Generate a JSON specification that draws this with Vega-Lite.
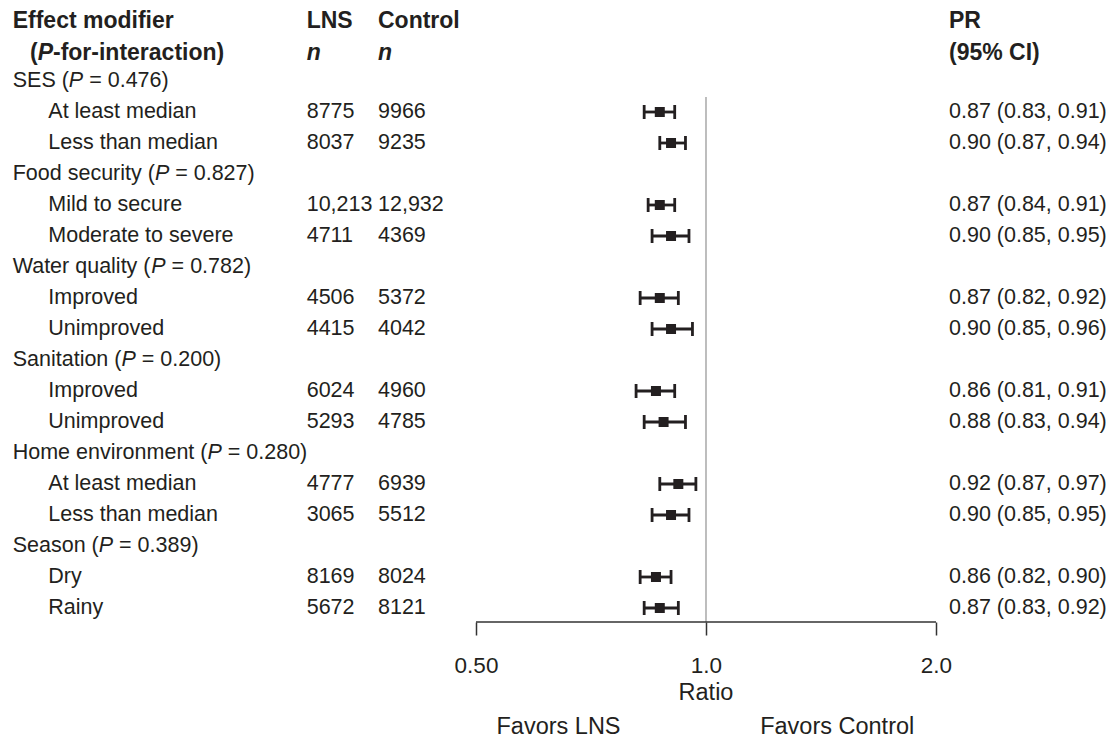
{
  "$schema": "https://vega.github.io/schema/vega-lite/v6.json",
  "width": 1111,
  "height": 739,
  "autosize": {"type": "none"},
  "padding": 0,
  "background": "white",
  "config": {
    "view": {"stroke": null},
    "text": {"font": "Liberation Sans", "fontSize": 21.5, "color": "#231f20", "align": "left", "baseline": "middle"}
  },
  "datasets": {
    "rows": [
      {"row": 0, "type": "group", "label": "SES (", "post": "= 0.476)"},
      {"row": 1, "type": "item", "label": "At least median", "lns": "8775", "ctrl": "9966", "pr": 0.87, "lo": 0.83, "hi": 0.91, "ci": "0.87 (0.83, 0.91)"},
      {"row": 2, "type": "item", "label": "Less than median", "lns": "8037", "ctrl": "9235", "pr": 0.90, "lo": 0.87, "hi": 0.94, "ci": "0.90 (0.87, 0.94)"},
      {"row": 3, "type": "group", "label": "Food security (", "post": "= 0.827)"},
      {"row": 4, "type": "item", "label": "Mild to secure", "lns": "10,213", "ctrl": "12,932", "pr": 0.87, "lo": 0.84, "hi": 0.91, "ci": "0.87 (0.84, 0.91)"},
      {"row": 5, "type": "item", "label": "Moderate to severe", "lns": "4711", "ctrl": "4369", "pr": 0.90, "lo": 0.85, "hi": 0.95, "ci": "0.90 (0.85, 0.95)"},
      {"row": 6, "type": "group", "label": "Water quality (", "post": "= 0.782)"},
      {"row": 7, "type": "item", "label": "Improved", "lns": "4506", "ctrl": "5372", "pr": 0.87, "lo": 0.82, "hi": 0.92, "ci": "0.87 (0.82, 0.92)"},
      {"row": 8, "type": "item", "label": "Unimproved", "lns": "4415", "ctrl": "4042", "pr": 0.90, "lo": 0.85, "hi": 0.96, "ci": "0.90 (0.85, 0.96)"},
      {"row": 9, "type": "group", "label": "Sanitation (", "post": "= 0.200)"},
      {"row": 10, "type": "item", "label": "Improved", "lns": "6024", "ctrl": "4960", "pr": 0.86, "lo": 0.81, "hi": 0.91, "ci": "0.86 (0.81, 0.91)"},
      {"row": 11, "type": "item", "label": "Unimproved", "lns": "5293", "ctrl": "4785", "pr": 0.88, "lo": 0.83, "hi": 0.94, "ci": "0.88 (0.83, 0.94)"},
      {"row": 12, "type": "group", "label": "Home environment (", "post": "= 0.280)"},
      {"row": 13, "type": "item", "label": "At least median", "lns": "4777", "ctrl": "6939", "pr": 0.92, "lo": 0.87, "hi": 0.97, "ci": "0.92 (0.87, 0.97)"},
      {"row": 14, "type": "item", "label": "Less than median", "lns": "3065", "ctrl": "5512", "pr": 0.90, "lo": 0.85, "hi": 0.95, "ci": "0.90 (0.85, 0.95)"},
      {"row": 15, "type": "group", "label": "Season (", "post": "= 0.389)"},
      {"row": 16, "type": "item", "label": "Dry", "lns": "8169", "ctrl": "8024", "pr": 0.86, "lo": 0.82, "hi": 0.90, "ci": "0.86 (0.82, 0.90)"},
      {"row": 17, "type": "item", "label": "Rainy", "lns": "5672", "ctrl": "8121", "pr": 0.87, "lo": 0.83, "hi": 0.92, "ci": "0.87 (0.83, 0.92)"}
    ],
    "labels": [
      {"id": "h1", "text": "Effect modifier"},
      {"id": "h2a", "text": "("},
      {"id": "h2b", "text": "P"},
      {"id": "h2c", "text": "-for-interaction)"},
      {"id": "lns", "text": "LNS"},
      {"id": "ctl", "text": "Control"},
      {"id": "n", "text": "n"},
      {"id": "pr", "text": "PR"},
      {"id": "ci", "text": "(95% CI)"},
      {"id": "ratio", "text": "Ratio"},
      {"id": "favl", "text": "Favors LNS"},
      {"id": "favc", "text": "Favors Control"}
    ]
  },
  "data": {"name": "rows"},
  "layer": [
    {
      "data": {"values": [{"line": "reference"}]},
      "mark": {"type": "rule", "color": "#a8a8a8", "strokeWidth": 1.5},
      "encoding": {
        "x": {"datum": 1, "type": "quantitative",
          "scale": {"type": "log", "domain": [0.119116, 3.389036], "nice": false},
          "axis": {"values": [0.5, 1, 2], "labelExpr": "datum.value == 0.5 ? '0.50' : (datum.value == 1 ? '1.0' : '2.0')",
            "domain": false, "grid": false, "ticks": true, "tickSize": 13, "tickWidth": 1.5, "tickColor": "#333333",
            "labelFontSize": 22.5, "labelFont": "Liberation Sans", "labelColor": "#231f20", "labelPadding": 19,
            "labelFlush": false, "labelOverlap": false, "offset": -117, "title": null, "orient": "bottom"}},
        "y": {"datum": 0.516, "type": "quantitative",
          "scale": {"domain": [-2.6129032, 21.2258065], "reverse": true, "nice": false, "zero": false}, "axis": null},
        "y2": {"datum": 17.452}
      }
    },
    {
      "data": {"values": [{"line": "axis"}]},
      "mark": {"type": "rule", "color": "#333333", "strokeWidth": 1.5},
      "encoding": {
        "x": {"datum": 0.5, "type": "quantitative"},
        "x2": {"datum": 2},
        "y": {"datum": 17.452, "type": "quantitative", "axis": null}
      }
    },
    {
      "transform": [{"filter": "datum.type == 'item'"}],
      "mark": {"type": "rule", "color": "#231f20", "strokeWidth": 2.8},
      "encoding": {
        "x": {"field": "lo", "type": "quantitative", "title": null},
        "x2": {"field": "hi"},
        "y": {"field": "row", "type": "quantitative", "axis": null}
      }
    },
    {
      "transform": [{"filter": "datum.type == 'item'"}],
      "mark": {"type": "tick", "orient": "vertical", "size": 14, "thickness": 2.8, "color": "#231f20", "opacity": 1},
      "encoding": {
        "x": {"field": "lo", "type": "quantitative", "title": null},
        "y": {"field": "row", "type": "quantitative", "axis": null}
      }
    },
    {
      "transform": [{"filter": "datum.type == 'item'"}],
      "mark": {"type": "tick", "orient": "vertical", "size": 14, "thickness": 2.8, "color": "#231f20", "opacity": 1},
      "encoding": {
        "x": {"field": "hi", "type": "quantitative", "title": null},
        "y": {"field": "row", "type": "quantitative", "axis": null}
      }
    },
    {
      "transform": [{"filter": "datum.type == 'item'"}],
      "mark": {"type": "square", "size": 100, "color": "#231f20", "opacity": 1},
      "encoding": {
        "x": {"field": "pr", "type": "quantitative", "title": null},
        "y": {"field": "row", "type": "quantitative", "axis": null}
      }
    },
    {
      "transform": [{"filter": "datum.type == 'item'"}],
      "mark": {"type": "text"},
      "encoding": {
        "x": {"datum": 0.13778, "type": "quantitative"},
        "y": {"field": "row", "type": "quantitative", "axis": null},
        "text": {"field": "label"}
      }
    },
    {
      "transform": [{"filter": "datum.type == 'group'"}],
      "mark": {"type": "text"},
      "encoding": {
        "x": {"datum": 0.123763, "type": "quantitative"},
        "y": {"field": "row", "type": "quantitative", "axis": null},
        "text": {"field": "label"}
      }
    },
    {
      "transform": [{"filter": "datum.row == 0"}],
      "mark": {"type": "text", "fontStyle": "italic", "dx": 56.16, "text": "P"},
      "encoding": {"x": {"datum": 0.123763, "type": "quantitative"}, "y": {"field": "row", "type": "quantitative", "axis": null}}
    },
    {
      "transform": [{"filter": "datum.row == 0"}],
      "mark": {"type": "text", "dx": 76.48},
      "encoding": {"x": {"datum": 0.123763, "type": "quantitative"}, "y": {"field": "row", "type": "quantitative", "axis": null}, "text": {"field": "post"}}
    },
    {
      "transform": [{"filter": "datum.row == 3"}],
      "mark": {"type": "text", "fontStyle": "italic", "dx": 142.18, "text": "P"},
      "encoding": {"x": {"datum": 0.123763, "type": "quantitative"}, "y": {"field": "row", "type": "quantitative", "axis": null}}
    },
    {
      "transform": [{"filter": "datum.row == 3"}],
      "mark": {"type": "text", "dx": 162.5},
      "encoding": {"x": {"datum": 0.123763, "type": "quantitative"}, "y": {"field": "row", "type": "quantitative", "axis": null}, "text": {"field": "post"}}
    },
    {
      "transform": [{"filter": "datum.row == 6"}],
      "mark": {"type": "text", "fontStyle": "italic", "dx": 138.59, "text": "P"},
      "encoding": {"x": {"datum": 0.123763, "type": "quantitative"}, "y": {"field": "row", "type": "quantitative", "axis": null}}
    },
    {
      "transform": [{"filter": "datum.row == 6"}],
      "mark": {"type": "text", "dx": 158.91},
      "encoding": {"x": {"datum": 0.123763, "type": "quantitative"}, "y": {"field": "row", "type": "quantitative", "axis": null}, "text": {"field": "post"}}
    },
    {
      "transform": [{"filter": "datum.row == 9"}],
      "mark": {"type": "text", "fontStyle": "italic", "dx": 108.75, "text": "P"},
      "encoding": {"x": {"datum": 0.123763, "type": "quantitative"}, "y": {"field": "row", "type": "quantitative", "axis": null}}
    },
    {
      "transform": [{"filter": "datum.row == 9"}],
      "mark": {"type": "text", "dx": 129.07},
      "encoding": {"x": {"datum": 0.123763, "type": "quantitative"}, "y": {"field": "row", "type": "quantitative", "axis": null}, "text": {"field": "post"}}
    },
    {
      "transform": [{"filter": "datum.row == 12"}],
      "mark": {"type": "text", "fontStyle": "italic", "dx": 194.75, "text": "P"},
      "encoding": {"x": {"datum": 0.123763, "type": "quantitative"}, "y": {"field": "row", "type": "quantitative", "axis": null}}
    },
    {
      "transform": [{"filter": "datum.row == 12"}],
      "mark": {"type": "text", "dx": 215.07},
      "encoding": {"x": {"datum": 0.123763, "type": "quantitative"}, "y": {"field": "row", "type": "quantitative", "axis": null}, "text": {"field": "post"}}
    },
    {
      "transform": [{"filter": "datum.row == 15"}],
      "mark": {"type": "text", "fontStyle": "italic", "dx": 86.04, "text": "P"},
      "encoding": {"x": {"datum": 0.123763, "type": "quantitative"}, "y": {"field": "row", "type": "quantitative", "axis": null}}
    },
    {
      "transform": [{"filter": "datum.row == 15"}],
      "mark": {"type": "text", "dx": 106.36},
      "encoding": {"x": {"datum": 0.123763, "type": "quantitative"}, "y": {"field": "row", "type": "quantitative", "axis": null}, "text": {"field": "post"}}
    },
    {
      "transform": [{"filter": "datum.type == 'item'"}],
      "mark": {"type": "text"},
      "encoding": {
        "x": {"datum": 0.300183, "type": "quantitative"},
        "y": {"field": "row", "type": "quantitative", "axis": null},
        "text": {"field": "lns"}
      }
    },
    {
      "transform": [{"filter": "datum.type == 'item'"}],
      "mark": {"type": "text"},
      "encoding": {
        "x": {"datum": 0.372139, "type": "quantitative"},
        "y": {"field": "row", "type": "quantitative", "axis": null},
        "text": {"field": "ctrl"}
      }
    },
    {
      "transform": [{"filter": "datum.type == 'item'"}],
      "mark": {"type": "text"},
      "encoding": {
        "x": {"datum": 2.079911, "type": "quantitative"},
        "y": {"field": "row", "type": "quantitative", "axis": null},
        "text": {"field": "ci"}
      }
    },
    {
      "data": {"name": "labels"},
      "transform": [{"filter": "datum.id == 'h1'"}],
      "mark": {"type": "text", "fontWeight": "bold", "fontSize": 23},
      "encoding": {"x": {"datum": 0.123763, "type": "quantitative"}, "y": {"datum": -1.93, "type": "quantitative", "axis": null}, "text": {"field": "text"}}
    },
    {
      "data": {"name": "labels"},
      "transform": [{"filter": "datum.id == 'h2a'"}],
      "mark": {"type": "text", "fontWeight": "bold", "fontSize": 23},
      "encoding": {"x": {"datum": 0.130387, "type": "quantitative"}, "y": {"datum": -0.9, "type": "quantitative", "axis": null}, "text": {"field": "text"}}
    },
    {
      "data": {"name": "labels"},
      "transform": [{"filter": "datum.id == 'h2b'"}],
      "mark": {"type": "text", "fontWeight": "bold", "fontStyle": "italic", "fontSize": 23, "dx": 7.66},
      "encoding": {"x": {"datum": 0.130387, "type": "quantitative"}, "y": {"datum": -0.9, "type": "quantitative", "axis": null}, "text": {"field": "text"}}
    },
    {
      "data": {"name": "labels"},
      "transform": [{"filter": "datum.id == 'h2c'"}],
      "mark": {"type": "text", "fontWeight": "bold", "fontSize": 23, "dx": 23.0},
      "encoding": {"x": {"datum": 0.130387, "type": "quantitative"}, "y": {"datum": -0.9, "type": "quantitative", "axis": null}, "text": {"field": "text"}}
    },
    {
      "data": {"name": "labels"},
      "transform": [{"filter": "datum.id == 'lns'"}],
      "mark": {"type": "text", "fontWeight": "bold", "fontSize": 23},
      "encoding": {"x": {"datum": 0.300183, "type": "quantitative"}, "y": {"datum": -1.93, "type": "quantitative", "axis": null}, "text": {"field": "text"}}
    },
    {
      "data": {"name": "labels"},
      "transform": [{"filter": "datum.id == 'ctl'"}],
      "mark": {"type": "text", "fontWeight": "bold", "fontSize": 23},
      "encoding": {"x": {"datum": 0.372139, "type": "quantitative"}, "y": {"datum": -1.93, "type": "quantitative", "axis": null}, "text": {"field": "text"}}
    },
    {
      "data": {"name": "labels"},
      "transform": [{"filter": "datum.id == 'n'"}],
      "mark": {"type": "text", "fontWeight": "bold", "fontStyle": "italic", "fontSize": 23},
      "encoding": {"x": {"datum": 0.300183, "type": "quantitative"}, "y": {"datum": -0.9, "type": "quantitative", "axis": null}, "text": {"field": "text"}}
    },
    {
      "data": {"name": "labels"},
      "transform": [{"filter": "datum.id == 'n'"}],
      "mark": {"type": "text", "fontWeight": "bold", "fontStyle": "italic", "fontSize": 23},
      "encoding": {"x": {"datum": 0.372139, "type": "quantitative"}, "y": {"datum": -0.9, "type": "quantitative", "axis": null}, "text": {"field": "text"}}
    },
    {
      "data": {"name": "labels"},
      "transform": [{"filter": "datum.id == 'pr'"}],
      "mark": {"type": "text", "fontWeight": "bold", "fontSize": 23},
      "encoding": {"x": {"datum": 2.079911, "type": "quantitative"}, "y": {"datum": -1.93, "type": "quantitative", "axis": null}, "text": {"field": "text"}}
    },
    {
      "data": {"name": "labels"},
      "transform": [{"filter": "datum.id == 'ci'"}],
      "mark": {"type": "text", "fontWeight": "bold", "fontSize": 23},
      "encoding": {"x": {"datum": 2.079911, "type": "quantitative"}, "y": {"datum": -0.9, "type": "quantitative", "axis": null}, "text": {"field": "text"}}
    },
    {
      "data": {"name": "labels"},
      "transform": [{"filter": "datum.id == 'ratio'"}],
      "mark": {"type": "text", "align": "center", "fontSize": 23.5},
      "encoding": {"x": {"datum": 1, "type": "quantitative"}, "y": {"datum": 19.742, "type": "quantitative", "axis": null}, "text": {"field": "text"}}
    },
    {
      "data": {"name": "labels"},
      "transform": [{"filter": "datum.id == 'favl'"}],
      "mark": {"type": "text", "align": "center", "fontSize": 23.5},
      "encoding": {"x": {"datum": 0.641134, "type": "quantitative"}, "y": {"datum": 20.839, "type": "quantitative", "axis": null}, "text": {"field": "text"}}
    },
    {
      "data": {"name": "labels"},
      "transform": [{"filter": "datum.id == 'favc'"}],
      "mark": {"type": "text", "align": "center", "fontSize": 23.5},
      "encoding": {"x": {"datum": 1.484973, "type": "quantitative"}, "y": {"datum": 20.839, "type": "quantitative", "axis": null}, "text": {"field": "text"}}
    }
  ]
}
